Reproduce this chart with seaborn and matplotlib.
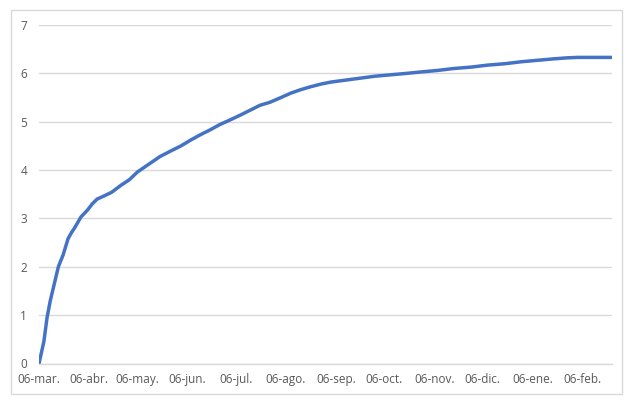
import pandas as pd
import matplotlib
matplotlib.use("Agg")
import matplotlib.pyplot as plt
import matplotlib.patches as mpatches
import seaborn as sns

# values (cumulative, Mar 2020 - Feb 2021)
dates = ["2020-03-06", "2020-03-09", "2020-03-11", "2020-03-13", "2020-03-16", "2020-03-18",
         "2020-03-21", "2020-03-24", "2020-03-26", "2020-03-28", "2020-04-01", "2020-04-05",
         "2020-04-08", "2020-04-11", "2020-04-15", "2020-04-20", "2020-04-26", "2020-05-01",
         "2020-05-06", "2020-05-13", "2020-05-20", "2020-05-27", "2020-06-02", "2020-06-08",
         "2020-06-14", "2020-06-20", "2020-06-26", "2020-07-02", "2020-07-09", "2020-07-15",
         "2020-07-21", "2020-07-27", "2020-08-03", "2020-08-09", "2020-08-15", "2020-08-21",
         "2020-08-28", "2020-09-03", "2020-09-12", "2020-09-21", "2020-09-30", "2020-10-10",
         "2020-10-20", "2020-10-29", "2020-11-08", "2020-11-18", "2020-11-29", "2020-12-09",
         "2020-12-20", "2020-12-30", "2021-01-09", "2021-01-19", "2021-01-27", "2021-02-03",
         "2021-02-14", "2021-02-24"]
values = [0.00, 0.45, 0.95, 1.30, 1.72, 2.00,
          2.25, 2.58, 2.70, 2.80, 3.03, 3.17,
          3.30, 3.40, 3.46, 3.54, 3.69, 3.80,
          3.96, 4.12, 4.28, 4.40, 4.50, 4.62,
          4.73, 4.83, 4.94, 5.03, 5.14, 5.24,
          5.34, 5.40, 5.50, 5.59, 5.66, 5.72,
          5.78, 5.82, 5.86, 5.90, 5.94, 5.97,
          6.00, 6.03, 6.06, 6.10, 6.13, 6.17,
          6.20, 6.24, 6.27, 6.30, 6.32, 6.33,
          6.33, 6.33]

tick_dates = ["2020-03-06", "2020-04-06", "2020-05-06", "2020-06-06", "2020-07-06", "2020-08-06",
              "2020-09-06", "2020-10-06", "2020-11-06", "2020-12-06", "2021-01-06", "2021-02-06"]
tick_labels = ["06-mar.", "06-abr.", "06-may.", "06-jun.", "06-jul.", "06-ago.",
               "06-sep.", "06-oct.", "06-nov.", "06-dic.", "06-ene.", "06-feb."]
y_ticks = [0, 1, 2, 3, 4, 5, 6, 7]

df = pd.DataFrame({"fecha": pd.to_datetime(dates), "valor": values})

sns.set_style("white")
plt.rcParams["font.family"] = ["Open Sans", "DejaVu Sans"]

fig = plt.figure(figsize=(6.37, 4.08), dpi=100)
ax = fig.add_axes([39 / 637, (408 - 363.5) / 408, (611.7 - 39) / 637, (363.5 - 25) / 408])

sns.lineplot(data=df, x="fecha", y="valor", ax=ax, color="#4472C4", linewidth=2.5)

ax.set_xlim(df["fecha"].min(), df["fecha"].max())
ax.set_ylim(0, 7)
ax.set_yticks(y_ticks)
ax.set_xticks(pd.to_datetime(tick_dates))
ax.set_xticklabels(tick_labels)
ax.set_xlabel("")
ax.set_ylabel("")

ax.grid(axis="y", color="#d9d9d9", linewidth=1)
ax.set_axisbelow(True)
for side in ["top", "right", "left"]:
    ax.spines[side].set_visible(False)
ax.spines["bottom"].set_color("#d9d9d9")
ax.spines["bottom"].set_linewidth(1)

ax.tick_params(axis="y", length=0, pad=8.5, labelsize=8.5, labelcolor="#595959")
ax.tick_params(axis="x", length=4, direction="out", color="#d9d9d9", pad=3,
               labelsize=8.5, labelcolor="#595959")

# outer chart border
fig.patches.append(mpatches.Rectangle((11 / 637, (408 - 394) / 408), 611 / 637, 384 / 408,
                                      transform=fig.transFigure, fill=False,
                                      edgecolor="#d9d9d9", linewidth=1))

fig.savefig("out.png", dpi=100)
